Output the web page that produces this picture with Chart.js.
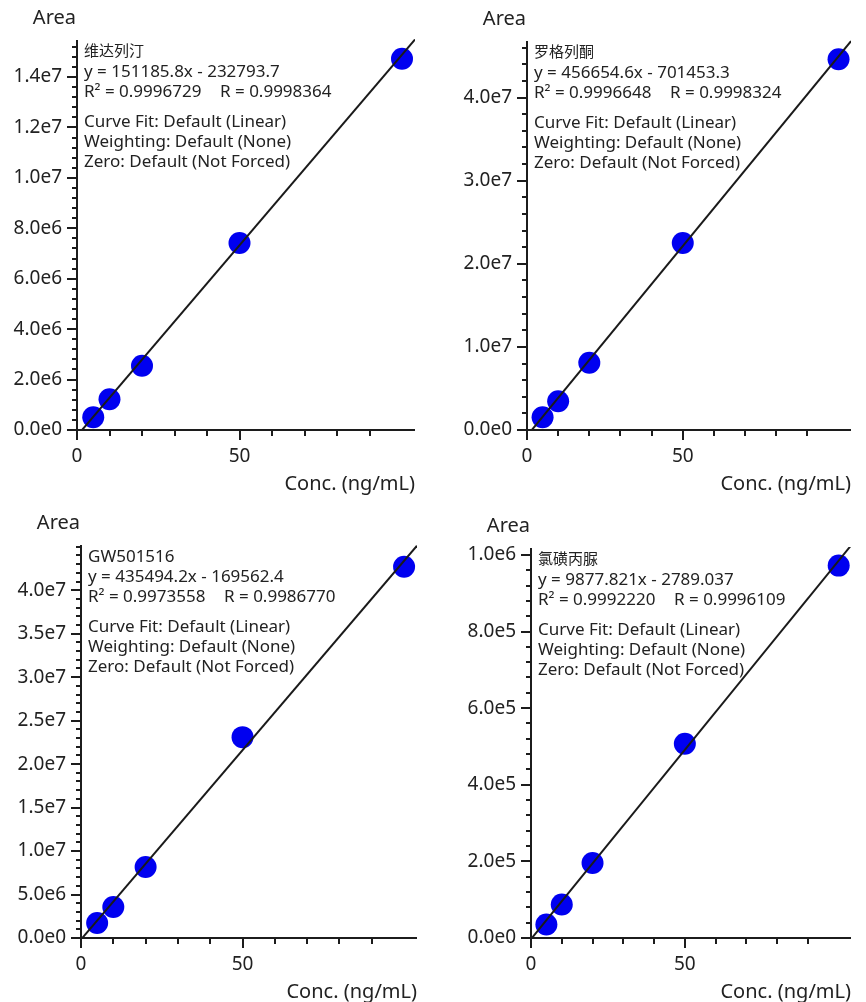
<!DOCTYPE html>
<html>
<head>
<meta charset="utf-8">
<script src="https://cdn.jsdelivr.net/npm/chart.js@4.4.0/dist/chart.umd.min.js"></script>
<style>
body { margin: 0; background: #fff; }
#wrap { position: relative; width: 866px; height: 1002px; overflow: hidden; }
</style>
</head>
<body>
<div id="wrap"></div>
<script>
// calibration data
var conc = [5, 10, 20, 50, 100];
var areaVildagliptin = [5.04e5, 1.22e6, 2.55e6, 7.42e6, 1.473e7];
var areaRosiglitazone = [1.54e6, 3.46e6, 8.10e6, 2.25e7, 4.46e7];
var areaGW501516 = [1.72e6, 3.56e6, 8.16e6, 2.31e7, 4.27e7];
var areaChlorpropamide = [3.50e4, 8.73e4, 1.96e5, 5.07e5, 9.72e5];
var areas = [areaVildagliptin, areaRosiglitazone, areaGW501516, areaChlorpropamide];

var compounds = ['维达列汀', '罗格列酮', 'GW501516', '氯磺丙脲'];
var slopes = [151185.8, 456654.6, 435494.2, 9877.821];
var intercepts = [-232793.7, -701453.3, -169562.4, -2789.037];
var equations = ['y = 151185.8x - 232793.7', 'y = 456654.6x - 701453.3', 'y = 435494.2x - 169562.4', 'y = 9877.821x - 2789.037'];
var rSquared = ['0.9996729', '0.9996648', '0.9973558', '0.9992220'];
var rValues = ['0.9998364', '0.9998324', '0.9986770', '0.9996109'];
var fitNotes = ['Curve Fit: Default (Linear)', 'Weighting: Default (None)', 'Zero: Default (Not Forced)'];

var xMax = 104;
var xMinorStep = 10;
var xMajorStep = 50;
var xLabelled = [0, 50];
var yMax = [1.547e7, 4.68e7, 4.52e7, 1.018e6];
var yMajorStep = [2e6, 1e7, 5e6, 2e5];
var yMinorStep = [4e5, 2e6, 1e6, 4e4];
var yTopLabel = [1.4e7, 4e7, 4e7, 1e6];

// layout of the panels (px)
var W = 433, H = 501;
var panelX = [0, 433, 0, 433], panelY = [0, 0, 501, 501];
var plotL = [77, 94, 81, 98], plotT = [40, 41, 44, 47], plotR = [415, 433, 417, 433], plotB = [430, 430, 437, 437];

var family = "'Noto Sans', 'Noto Sans CJK SC', sans-serif";
var ink = '#222';
var axisInk = '#1c1c1c';

function isMultiple(v, step) {
    var r = v / step;
    return Math.abs(r - Math.round(r)) < 1e-6;
}
function fmtExp(v) {
    return v.toExponential(1).replace('e+', 'e');
}
function isLabelled(v, i) {
    return isMultiple(v, yMajorStep[i]) && v <= yTopLabel[i] * 1.000001;
}

var panelDeco = {
    id: 'panelDeco',
    afterDraw: function(chart, args, opts) {
        var i = opts.index;
        var ctx = chart.ctx, a = chart.chartArea;
        var xs = chart.scales.x, ys = chart.scales.y;
        ctx.save();
        ctx.strokeStyle = axisInk;
        ctx.lineWidth = 2;
        ctx.beginPath();
        ctx.moveTo(a.left, a.top);
        ctx.lineTo(a.left, a.bottom);
        ctx.moveTo(a.left, a.bottom);
        ctx.lineTo(a.right, a.bottom);
        ctx.stroke();
        // y ticks
        ys.ticks.forEach(function(t) {
            var major = isLabelled(t.value, i);
            var py = Math.round(ys.getPixelForValue(t.value));
            ctx.beginPath();
            ctx.moveTo(a.left - (major ? 10 : 5), py);
            ctx.lineTo(a.left, py);
            ctx.stroke();
        });
        // x ticks
        xs.ticks.forEach(function(t) {
            if (!isMultiple(t.value, xMinorStep)) return;
            var major = isMultiple(t.value, xMajorStep);
            var px = Math.round(xs.getPixelForValue(t.value));
            ctx.beginPath();
            ctx.moveTo(px, a.bottom);
            ctx.lineTo(px, a.bottom + (major ? 10 : 6));
            ctx.stroke();
        });
        // y title
        ctx.fillStyle = ink;
        ctx.textBaseline = 'middle';
        ctx.textAlign = 'right';
        ctx.font = '20px ' + family;
        ctx.fillText('Area', a.left - 1, a.top - 22);
        // fit summary
        ctx.textAlign = 'left';
        var tx = a.left + 7;
        var cjk = /[\u4e00-\u9fff]/.test(compounds[i]);
        ctx.font = (cjk ? 15 : 17) + 'px ' + family;
        ctx.fillText(compounds[i], tx, a.top + 12);
        ctx.font = '17px ' + family;
        ctx.fillText(equations[i], tx, a.top + 32);
        ctx.fillText('R\u00b2 = ' + rSquared[i], tx, a.top + 52);
        ctx.fillText('R = ' + rValues[i], tx + 136, a.top + 52);
        for (var k = 0; k < fitNotes.length; k++) {
            ctx.fillText(fitNotes[k], tx, a.top + 82 + k * 20);
        }
        ctx.restore();
    }
};

function makeChart(i) {
    var cv = document.createElement('canvas');
    cv.width = W;
    cv.height = H;
    cv.style.position = 'absolute';
    cv.style.left = panelX[i] + 'px';
    cv.style.top = panelY[i] + 'px';
    document.getElementById('wrap').appendChild(cv);

    var pts = conc.map(function(c, k) { return {x: c, y: areas[i][k]}; });
    var fit = [{x: 0, y: intercepts[i]}, {x: xMax, y: slopes[i] * xMax + intercepts[i]}];

    new Chart(cv.getContext('2d'), {
        type: 'scatter',
        data: {
            datasets: [{
                type: 'line',
                data: fit,
                borderColor: '#1a1a1a',
                borderWidth: 2,
                pointRadius: 0,
                fill: false,
                order: 0
            }, {
                type: 'scatter',
                data: pts,
                backgroundColor: 'rgb(0,0,240)',
                borderWidth: 0,
                pointRadius: 11,
                order: 1
            }]
        },
        options: {
            responsive: false,
            animation: false,
            layout: {padding: {top: plotT[i], right: W - plotR[i], left: 0, bottom: 0}},
            plugins: {
                legend: {display: false},
                tooltip: {enabled: false},
                panelDeco: {index: i}
            },
            scales: {
                x: {
                    type: 'linear',
                    min: 0,
                    max: xMax,
                    afterFit: function(s) { s.height = H - plotB[i]; },
                    grid: {display: false, drawTicks: false},
                    border: {display: false},
                    ticks: {
                        stepSize: xMinorStep,
                        autoSkip: false,
                        maxRotation: 0,
                        padding: 15,
                        color: ink,
                        font: {family: family, size: 19},
                        callback: function(v) { return xLabelled.indexOf(v) >= 0 ? String(v) : ''; }
                    },
                    title: {
                        display: true,
                        text: 'Conc. (ng/mL)',
                        align: 'end',
                        color: ink,
                        font: {family: family, size: 20, lineHeight: 1},
                        padding: {top: 0, bottom: Math.max(0, H - plotB[i] - 64)}
                    }
                },
                y: {
                    type: 'linear',
                    bounds: 'data',
                    afterDataLimits: function(s) { s.min = 0; s.max = yMax[i]; },
                    // every minor step up to the top of the axis
                    afterBuildTicks: function(s) {
                        var t = [];
                        for (var k = 0; k * yMinorStep[i] <= s.max; k++) {
                            t.push({value: k * yMinorStep[i]});
                        }
                        s.ticks = t;
                    },
                    afterFit: function(s) { s.width = plotL[i]; },
                    grid: {display: false, drawTicks: false},
                    border: {display: false},
                    ticks: {
                        autoSkip: false,
                        padding: 15,
                        color: ink,
                        font: {family: family, size: 19},
                        callback: function(v) { return isLabelled(v, i) ? fmtExp(v) : ''; }
                    }
                }
            }
        },
        plugins: [panelDeco]
    });
}

for (var i = 0; i < 4; i++) {
    makeChart(i);
}
</script>
</body>
</html>
